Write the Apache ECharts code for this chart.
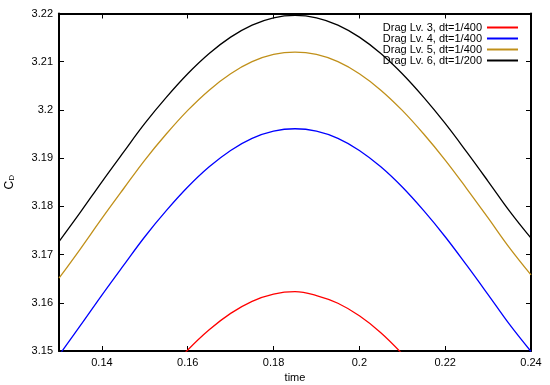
<!DOCTYPE html>
<html>
<head>
<meta charset="utf-8">
<script src="https://cdn.jsdelivr.net/npm/echarts@6/dist/echarts.min.js"></script>
<style>html,body{margin:0;padding:0;background:#fff}#c{width:550px;height:385px}</style>
</head>
<body>
<div id="c"></div>
<script>
var times = [0.13, 0.135, 0.14, 0.145, 0.15, 0.155, 0.16, 0.165, 0.17, 0.175, 0.18, 0.185, 0.19, 0.195, 0.2, 0.205, 0.21, 0.215, 0.22, 0.225, 0.23, 0.235, 0.24];
var lv3 = [3.1153, 3.1215, 3.1278, 3.1339, 3.1399, 3.1453, 3.1502, 3.1544, 3.1578, 3.1603, 3.1618, 3.1623, 3.1615, 3.1599, 3.1573, 3.1538, 3.1494, 3.1443, 3.1389, 3.1330, 3.1270, 3.1208, 3.1146];
var lv4 = [3.1491, 3.1553, 3.1616, 3.1677, 3.1737, 3.1791, 3.1840, 3.1882, 3.1916, 3.1941, 3.1956, 3.1961, 3.1956, 3.1941, 3.1916, 3.1882, 3.1840, 3.1791, 3.1737, 3.1678, 3.1617, 3.1555, 3.1499];
var lv5 = [3.1651, 3.1712, 3.1775, 3.1836, 3.1896, 3.1950, 3.1999, 3.2041, 3.2075, 3.2100, 3.2115, 3.2120, 3.2115, 3.2100, 3.2075, 3.2041, 3.1999, 3.1950, 3.1896, 3.1837, 3.1776, 3.1714, 3.1658];
var lv6 = [3.1727, 3.1788, 3.1851, 3.1912, 3.1972, 3.2026, 3.2075, 3.2117, 3.2151, 3.2176, 3.2191, 3.2196, 3.2191, 3.2176, 3.2151, 3.2117, 3.2075, 3.2026, 3.1972, 3.1913, 3.1852, 3.1790, 3.1734];
var seriesNames = ['Drag Lv. 3, dt=1/400', 'Drag Lv. 4, dt=1/400', 'Drag Lv. 5, dt=1/400', 'Drag Lv. 6, dt=1/200'];
var xTicks = [0.14, 0.16, 0.18, 0.2, 0.22, 0.24];
var yTicks = [3.15, 3.16, 3.17, 3.18, 3.19, 3.2, 3.21, 3.22];

var FONT = "'Liberation Sans', Arial, sans-serif";
function zip(xs, ys) { return xs.map(function (x, i) { return [x, ys[i]]; }); }
var colors = ['#ff0000', '#0000ff', '#c0901a', '#000000'];
var allValues = [lv3, lv4, lv5, lv6];

function baseAxisX(pos, showLabel) {
  return {
    type: 'value', position: pos, min: 0.13, max: 0.24,
    axisLine: { show: true, onZero: false, lineStyle: { color: '#000', width: 2 } },
    axisTick: { show: true, inside: true, length: 5, customValues: xTicks, lineStyle: { color: '#000', width: 1 } },
    axisLabel: { show: showLabel, customValues: xTicks, margin: 6, color: '#000', fontSize: 11, fontFamily: FONT,
      formatter: function (v) { return String(+v.toFixed(4)); } },
    splitLine: { show: false }
  };
}
function baseAxisY(pos, showLabel) {
  return {
    type: 'value', position: pos, min: 3.15, max: 3.22,
    axisLine: { show: true, onZero: false, lineStyle: { color: '#000', width: 2 } },
    axisTick: { show: true, inside: true, length: 5, customValues: yTicks, lineStyle: { color: '#000', width: 1 } },
    axisLabel: { show: showLabel, customValues: yTicks, margin: 6, color: '#000', fontSize: 11, fontFamily: FONT,
      formatter: function (v) { return String(+v.toFixed(4)); } },
    splitLine: { show: false }
  };
}

var xb = baseAxisX('bottom', true);
xb.name = 'time'; xb.nameLocation = 'middle'; xb.nameGap = 21;
xb.nameTextStyle = { color: '#000', fontSize: 11, fontFamily: FONT };
var xt = baseAxisX('top', false);
var yl = baseAxisY('left', true);
yl.name = 'C{sub|D}'; yl.nameLocation = 'middle'; yl.nameGap = 43; yl.nameRotate = 90;
yl.nameTextStyle = { color: '#000', fontSize: 12, fontFamily: FONT,
  rich: { sub: { fontSize: 8, color: '#000', fontFamily: FONT, verticalAlign: 'bottom', padding: [5, 0, 0, 0] } } };
var yr = baseAxisY('right', false);

var chart = echarts.init(document.getElementById('c'), null, { renderer: 'canvas' });
chart.setOption({
  animation: false,
  backgroundColor: '#fff',
  grid: { left: 59, right: 19, top: 13.5, bottom: 34, containLabel: false, outerBoundsMode: 'none' },
  legend: {
    orient: 'vertical', right: 27, top: 17, align: 'right',
    itemWidth: 31, itemHeight: 2, itemGap: 0, icon: 'rect',
    textStyle: { color: '#000', fontSize: 11, fontFamily: FONT, lineHeight: 11 },
    data: seriesNames
  },
  xAxis: [xb, xt],
  yAxis: [yl, yr],
  series: allValues.map(function (vals, i) {
    return {
      name: seriesNames[i], type: 'line', xAxisIndex: 0, yAxisIndex: 0,
      data: zip(times, vals), smooth: 0.4, showSymbol: false, symbol: 'none', clip: true,
      lineStyle: { color: colors[i], width: 1.3 }, itemStyle: { color: colors[i] }
    };
  })
});
</script>
</body>
</html>
